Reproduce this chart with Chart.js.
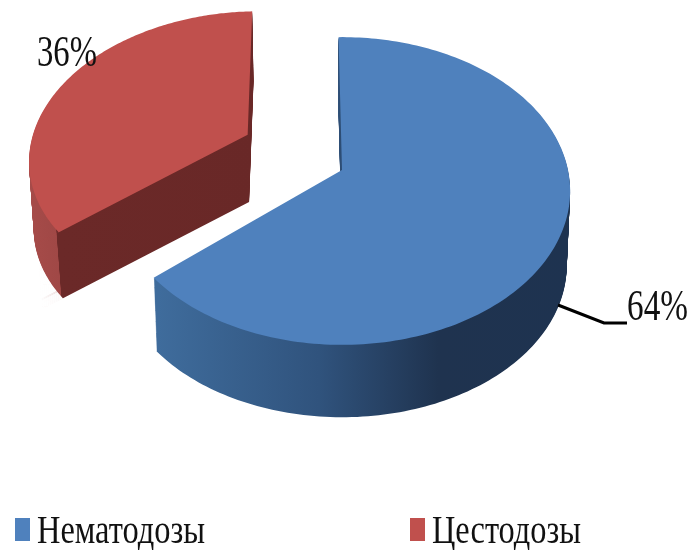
<!DOCTYPE html>
<html><head><meta charset="utf-8">
<style>html,body{margin:0;padding:0;background:#fff}canvas{display:block}</style>
<script src="https://cdn.jsdelivr.net/npm/chart.js@4"></script>
</head><body>
<canvas id="c" width="695" height="550"></canvas>
<script>
const categories = ['Нематодозы', 'Цестодозы'];
const shares = [64, 36];
const topColors = ['#4f81bd', '#c0504d'];

// view of the tilted disc
const view = {cx: 342, cy: 170, A: 226, B: 151, k: 0.1364, shrink: 0.015};
const depths = [75, 67];
const lifts = [0, -7];
const sliceScale = [1, 0.975];

function project(el, px, py, depth, lift, maxDepth) {
  const R = el.outerRadius;
  const u = (px - el.x) / R, v = (py - el.y) / R;
  const w = 1 - view.k * v;
  const s = 1 - view.shrink * (maxDepth ? depth / maxDepth : 0);
  return [view.cx + view.A * u / w * s, view.cy + view.B * v / w * s + depth + lift];
}

function drawTilted(ctx, el, fill, depth, lift, maxDepth, scale) {
  let tx = 0, ty = 0;
  const proto = CanvasRenderingContext2D.prototype;
  const map = (x, y) => {
    const p = project(el, x + tx, y + ty, depth, lift, maxDepth);
    const a = project(el, el.x + tx, el.y + ty, depth, lift, maxDepth);
    return [a[0] + (p[0] - a[0]) * scale, a[1] + (p[1] - a[1]) * scale];
  };
  ctx.translate = (a, b) => { tx += a; ty += b; };
  ctx.lineTo = (x, y) => {
    const p = map(x, y);
    proto.lineTo.call(ctx, p[0], p[1]);
  };
  ctx.moveTo = (x, y) => {
    const p = map(x, y);
    proto.moveTo.call(ctx, p[0], p[1]);
  };
  ctx.arc = (x, y, r, a0, a1, ccw) => {
    const n = 96;
    const rr = r > 0 ? el.outerRadius : 0;
    for (let i = 0; i <= n; i++) {
      const t = a0 + (a1 - a0) * i / n;
      ctx.lineTo(x + rr * Math.cos(t), y + rr * Math.sin(t));
    }
  };
  const saved = el.options;
  el.options = Object.assign({}, saved, {backgroundColor: fill, borderWidth: 0});
  el.draw(ctx);
  el.options = saved;
  delete ctx.translate; delete ctx.lineTo; delete ctx.moveTo; delete ctx.arc;
}

function sideFill(ctx, i, t) {
  if (i === 0) {
    const g = ctx.createLinearGradient(158, 0, 570, 0);
    g.addColorStop(0, '#3f6c9c');
    g.addColorStop(0.39, '#30537d');
    g.addColorStop(0.68, '#1f334f');
    g.addColorStop(1, '#1e3350');
    return g;
  }
  const edge = 56 + 5 * t;
  const g = ctx.createLinearGradient(20, 0, 260, 0);
  const f = (edge - 20) / 240;
  g.addColorStop(0, '#a84c4a');
  g.addColorStop(f, '#a04846');
  g.addColorStop(f + 0.002, '#6b2928');
  g.addColorStop(1, '#692827');
  return g;
}

function drawText(ctx, text, x, baseline, size, width, color) {
  ctx.save();
  ctx.font = size + 'px "Liberation Serif"';
  ctx.fillStyle = color;
  ctx.textBaseline = 'alphabetic';
  ctx.textAlign = 'left';
  const natural = ctx.measureText(text).width;
  ctx.translate(x, baseline);
  ctx.scale(width / natural, 1);
  ctx.fillText(text, 0, 0);
  ctx.restore();
}

const tiltedPie = {
  id: 'tiltedPie',
  beforeDatasetsDraw(chart) {
    const ctx = chart.ctx, arcs = chart.getDatasetMeta(0).data;
    [1, 0].forEach(i => {
      const el = arcs[i], D = depths[i];
      for (let d = D; d >= 1; d--) {
        drawTilted(ctx, el, sideFill(ctx, i, d / D), d, lifts[i], D, sliceScale[i]);
      }
      drawTilted(ctx, el, topColors[i], 0, lifts[i], D, sliceScale[i]);
    });
    // leader line of the first slice
    ctx.save();
    ctx.strokeStyle = '#000';
    ctx.lineWidth = 3;
    ctx.beginPath();
    ctx.moveTo(558, 305);
    ctx.lineTo(604, 323);
    ctx.lineTo(627, 323);
    ctx.stroke();
    ctx.restore();
    return false;
  },
  afterDraw(chart) {
    const ctx = chart.ctx;
    drawText(ctx, shares[0] + '%', 627, 320, 44, 61, '#111');
    drawText(ctx, shares[1] + '%', 37, 66, 44, 60, '#111');
    const boxX = [15, 410], textX = [37, 432], textW = [168, 149];
    categories.forEach((name, i) => {
      ctx.fillStyle = topColors[i];
      ctx.fillRect(boxX[i], 518, 15, 23);
      drawText(ctx, name, textX[i], 543, 40, textW[i], '#111');
    });
  }
};

new Chart(document.getElementById('c'), {
  type: 'pie',
  data: {
    labels: categories,
    datasets: [{data: shares, backgroundColor: topColors, borderWidth: 0, offset: [0, 263]}]
  },
  options: {
    responsive: false,
    animation: false,
    rotation: -1,
    radius: 140,
    layout: {padding: 0},
    plugins: {legend: {display: false}, tooltip: {enabled: false}}
  },
  plugins: [tiltedPie]
});
</script>
</body></html>
